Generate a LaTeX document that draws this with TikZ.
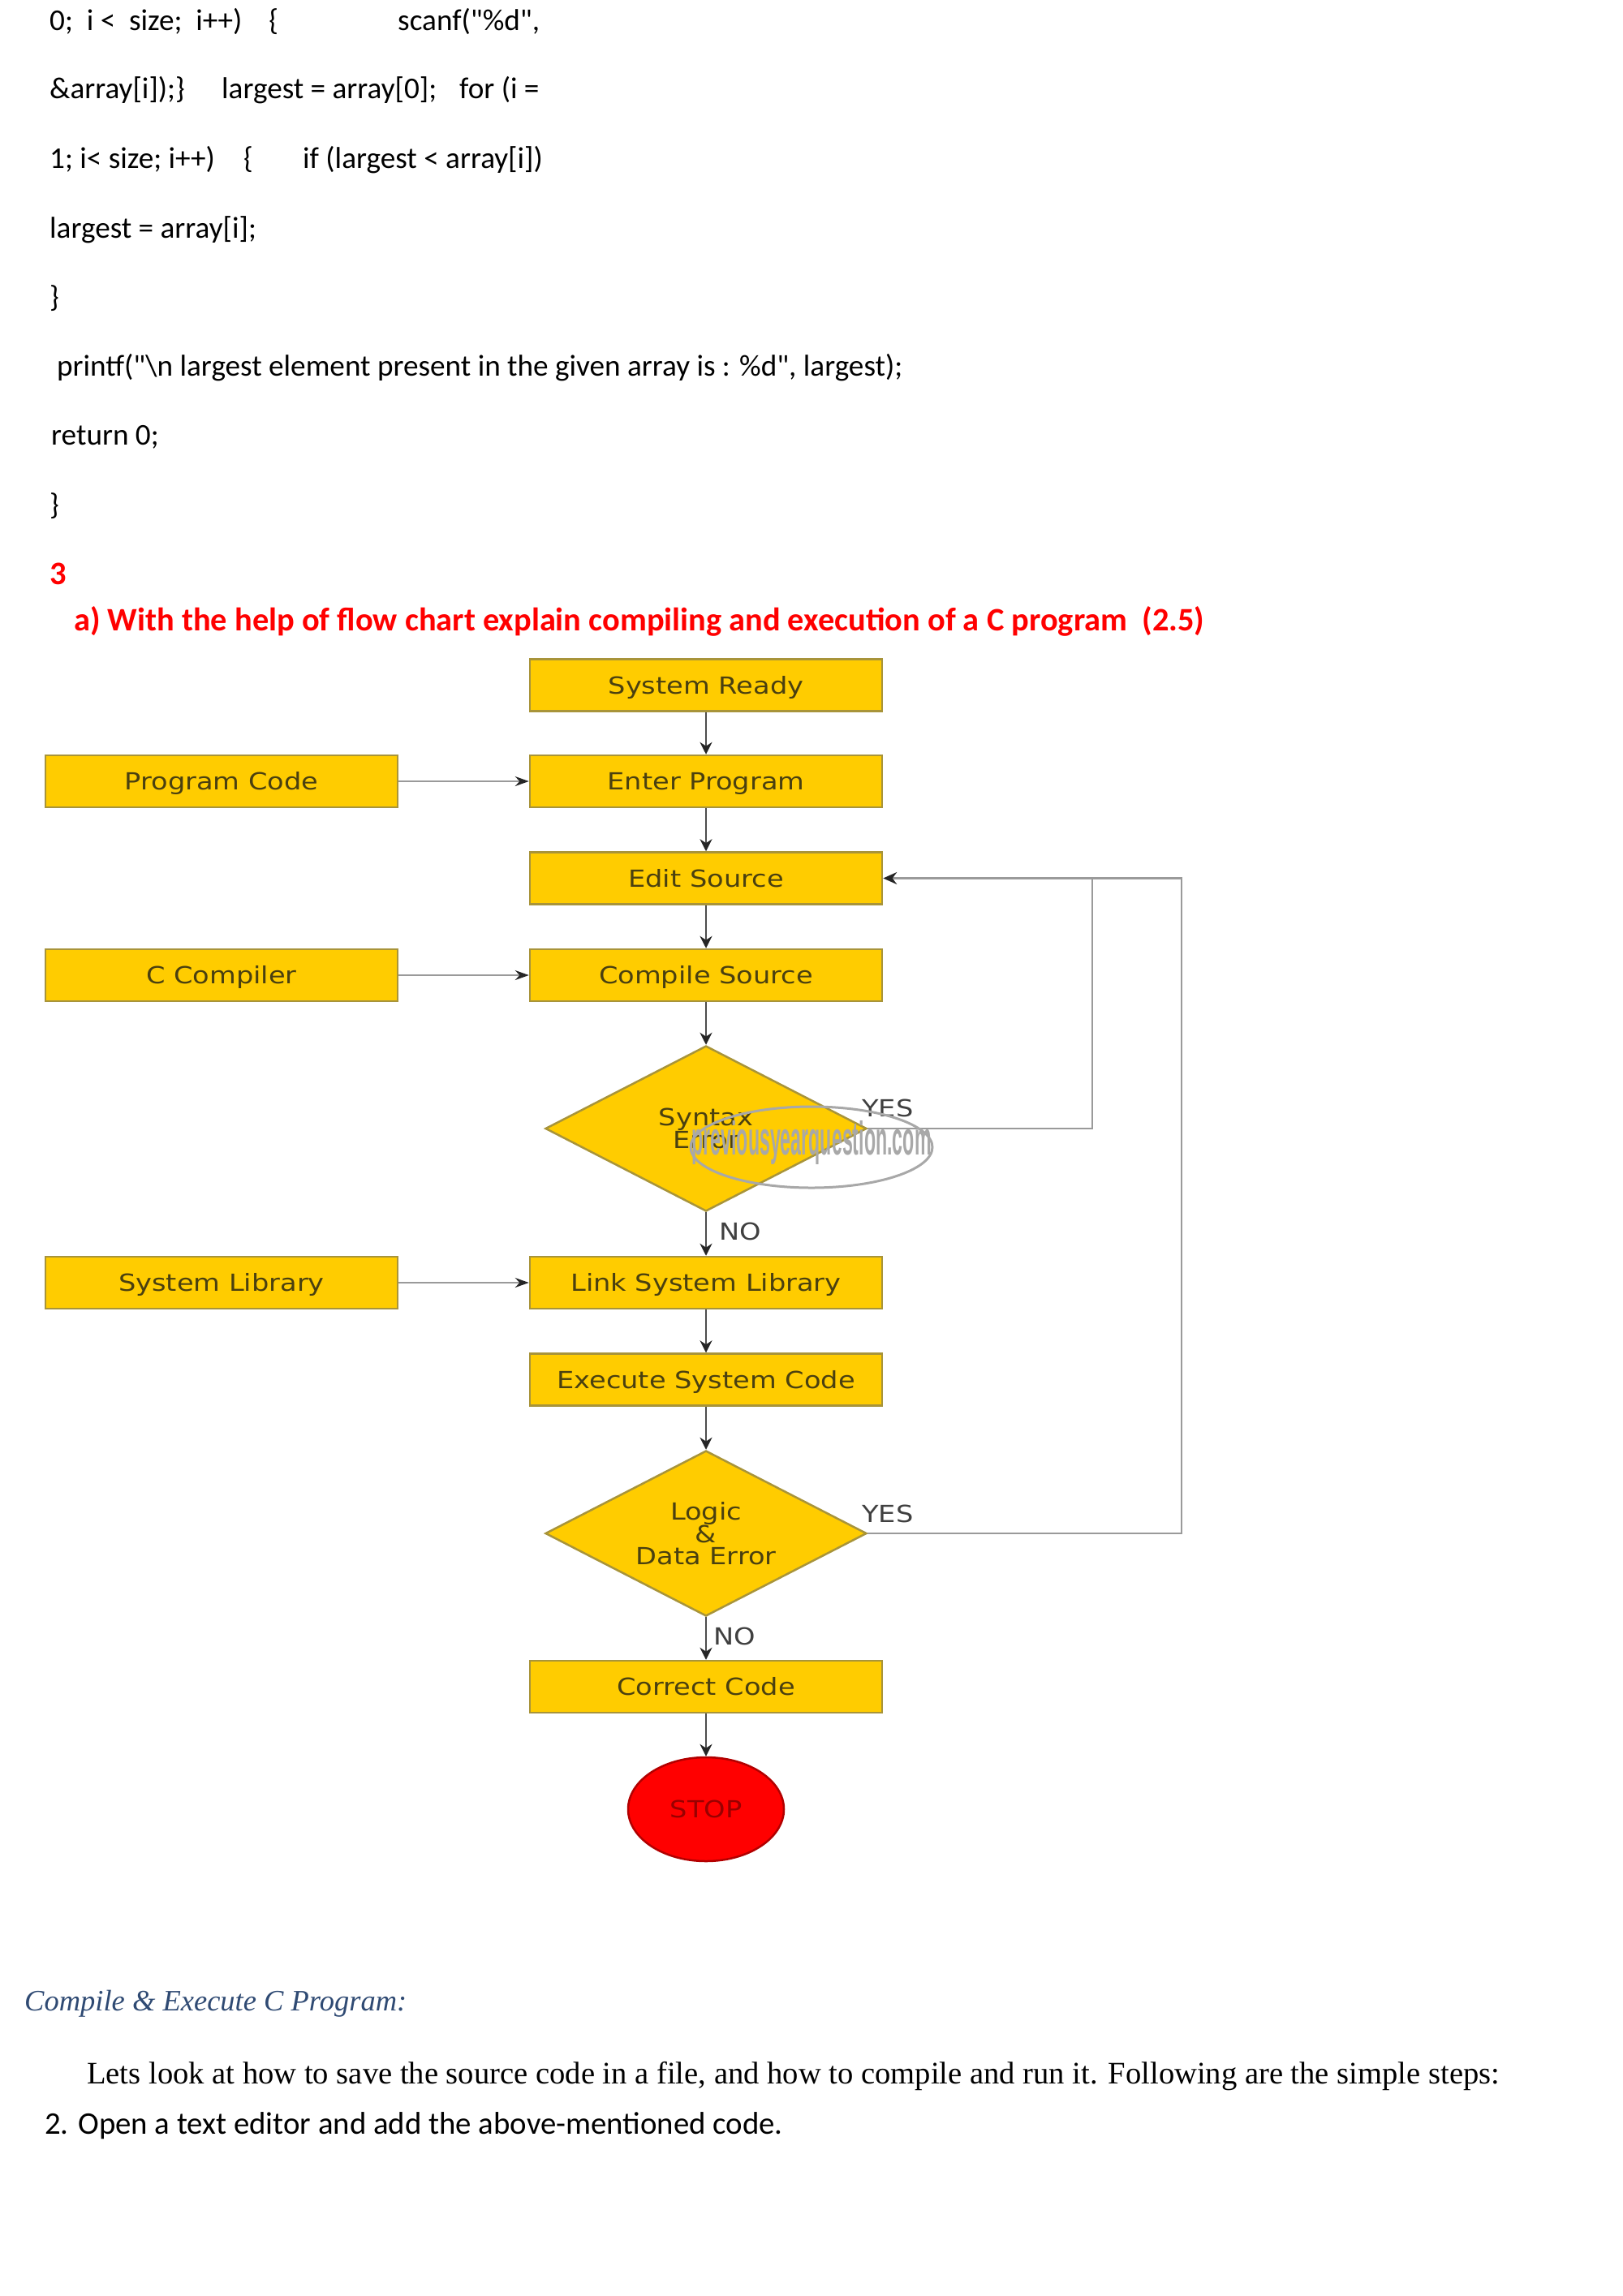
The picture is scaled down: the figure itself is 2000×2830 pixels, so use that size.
\documentclass[tikz,border=0pt]{standalone}
\usepackage{fontspec}
\newfontfamily\codefont{Carlito}
\newfontfamily\boxfont[FakeStretch=1.16]{DejaVu Sans}
\newfontfamily\timesfont{Liberation Serif}
\newfontfamily\markfont{Liberation Sans}
\usetikzlibrary{shapes.geometric,arrows.meta}
\definecolor{boxfill}{HTML}{FFCC00}
\definecolor{boxline}{HTML}{A8943A}
\definecolor{boxtext}{HTML}{4A4010}
\definecolor{linegrey}{HTML}{9A9A9A}
\definecolor{headblue}{HTML}{2F4A73}
\definecolor{markgrey}{HTML}{A8A8A8}
\tikzset{
 x=1pt,y=-1pt,
 txt/.style={anchor=base west,inner sep=0pt,font=\fontsize{37.2}{40}\selectfont\codefont,text=black},
 head/.style={anchor=base west,inner sep=0pt,font=\fontsize{40.4}{44}\selectfont\codefont\bfseries,text=red},
 stepbox/.style={draw=boxline,line width=2.5pt,fill=boxfill,rectangle,minimum width=434pt,minimum height=64pt,inner sep=0pt,text=boxtext,text height=21pt,text depth=0pt,font=\fontsize{29}{32}\selectfont\boxfont},
 decide/.style={draw=boxline,line width=2.5pt,fill=boxfill,diamond,aspect=1.95,minimum width=396pt,minimum height=204pt,inner sep=0pt,text=boxtext,align=center,font=\fontsize{29}{27}\selectfont\boxfont},
 lab/.style={inner sep=0pt,text=black!75,font=\fontsize{29}{32}\selectfont\boxfont},
 flow/.style={draw=black!70,line width=1.6pt,-{Stealth[length=15pt,width=15pt,color=black!85]}},
 feed/.style={draw=linegrey,line width=2.4pt},
 feedin/.style={draw=linegrey,line width=2.4pt,-{Stealth[length=17pt,width=15pt,color=black!85]}},
 side/.style={draw=linegrey,line width=1.6pt,-{Stealth[length=17pt,width=12pt,color=black!85]}},
}
\begin{document}
\begin{tikzpicture}
\useasboundingbox (0,0) rectangle (2000,2830);
% code text
\node[txt] (c1a) at (61,37) {0;\ \ i <\ \ size;\ \ i++)\hspace{33pt}\{};
\node[txt] (c1b) at (490,37) {scanf("\%d",};
\node[txt] (c2a) at (61,121) {\&array[i]);\}};
\node[txt] (c2b) at (273,121) {largest = array[0];};
\node[txt] (c2c) at (566,121) {for (i =};
\node[txt] (c3a) at (61,207) {1; i< size; i++)};
\node[txt] (c3b) at (300,207) {\{};
\node[txt] (c3c) at (373,207) {if (largest < array[i])};
\node[txt] (c4) at (61,293) {largest = array[i];};
\node[txt] (c5) at (61,378) {\}};
\node[txt] (c6) at (70,463) {printf("\textbackslash n largest element present in the given array is : \%d", largest);};
\node[txt] (c7) at (63,548) {return 0;};
\node[txt] (c8) at (61,634) {\}};
\node[head] (h1) at (61,720) {3};
\node[head] (h2) at (91,777) {a) With the help of flow chart explain compiling and execution of a C program\ \ (2.5)};
% flow chart
\node[stepbox] (ready) at (870,844.5) {System Ready};
\node[stepbox] (enter) at (870,963) {Enter Program};
\node[stepbox] (edit) at (870,1082.5) {Edit Source};
\node[stepbox] (comp) at (870,1202) {Compile Source};
\node[decide] (syn) at (870,1391) {Syntax\\Error};
\node[stepbox] (link) at (870,1581) {Link System Library};
\node[stepbox] (exec) at (870,1700.5) {Execute System Code};
\node[decide] (logic) at (870,1890) {Logic\\\&\\Data Error};
\node[stepbox] (fix) at (870,2079) {Correct Code};
\node[ellipse,draw=red!70!black,line width=2.5pt,fill=red,minimum width=192pt,minimum height=128pt,inner sep=0pt,text=red!60!black,font=\fontsize{29}{32}\selectfont\boxfont] (stop) at (870,2230) {STOP};
\node[stepbox] (prog) at (273,963) {Program Code};
\node[stepbox] (cc) at (273,1202) {C Compiler};
\node[stepbox] (lib) at (273,1581) {System Library};
\draw[flow] (ready) -- (enter);
\draw[flow] (enter) -- (edit);
\draw[flow] (edit) -- (comp);
\draw[flow] (comp) -- (syn);
\draw[flow] (syn) -- (link);
\draw[flow] (link) -- (exec);
\draw[flow] (exec) -- (logic);
\draw[flow] (logic) -- (fix);
\draw[flow] (fix) -- (stop);
\draw[side] (prog) -- (enter);
\draw[side] (cc) -- (comp);
\draw[side] (lib) -- (link);
\coordinate (j1) at (1346,1082.5);
\coordinate (j2) at (1456,1082.5);
\draw[feed] (syn.east) -- (syn.east -| j1) -- (j1);
\draw[feed] (logic.east) -- (logic.east -| j2) -- (j2) -- (j1);
\draw[feedin] (j1) -- (edit.east);
\node[lab] (y1) at (1094,1366) {YES};
\node[lab] (n1) at (912,1518) {NO};
\node[lab] (y2) at (1094,1866) {YES};
\node[lab] (n2) at (905,2017) {NO};
% watermark
\node[ellipse,draw=markgrey,line width=3pt,minimum width=298pt,minimum height=100pt,inner sep=0pt] (wm) at (1000,1414) {};
\node[inner sep=0pt,xscale=.40,text=markgrey,font=\fontsize{58}{60}\selectfont\markfont\bfseries] (wt) at (1000,1408) {previousyearquestion.com};
% lower text
\node[anchor=base west,inner sep=0pt,text=headblue,font=\fontsize{36.5}{42}\selectfont\timesfont\itshape] (t1) at (30,2478) {Compile \& Execute C Program:};
\node[anchor=base west,inner sep=0pt,font=\fontsize{38.6}{42}\selectfont\timesfont] (t2) at (107,2568) {Lets look at how to save the source code in a file, and how to compile and run it. Following are the simple steps:};
\node[txt,font=\fontsize{38.8}{42}\selectfont\codefont] (t3) at (55,2630) {2. Open a text editor and add the above-mentioned code.};
\end{tikzpicture}
\end{document}
